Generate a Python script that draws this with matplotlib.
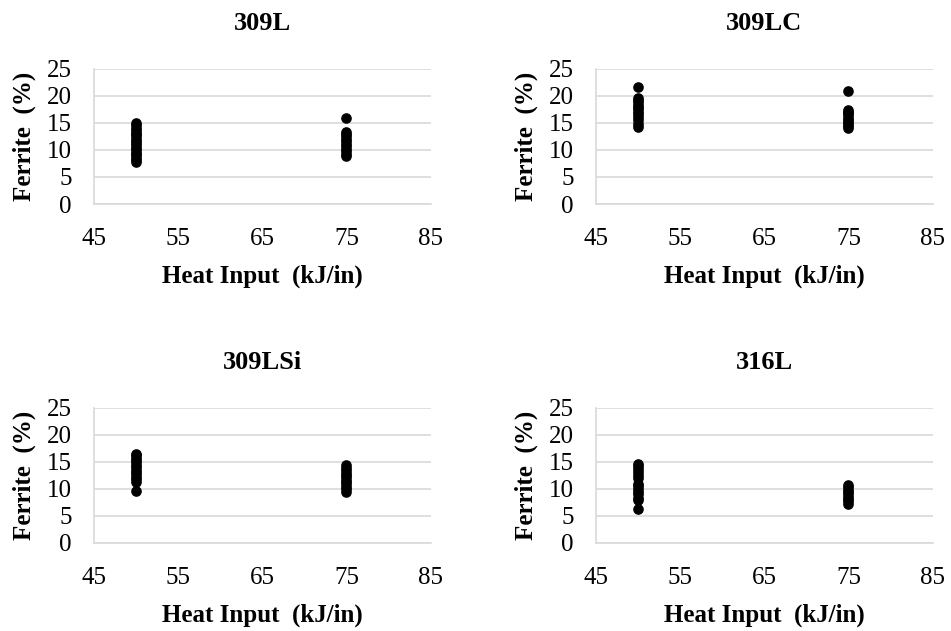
import matplotlib
matplotlib.use("Agg")
import matplotlib.pyplot as plt

plt.rcParams['font.family'] = ['Liberation Serif', 'DejaVu Serif']

# ferrite readings (%) at the two heat inputs (kJ/in)
heat_low = 50
heat_high = 75

f309L_50 = [7.7, 8.1, 8.5, 9.0, 9.3, 9.7, 10.1, 10.4, 10.9, 11.3, 11.6, 12.0, 12.5, 12.9, 13.2, 13.7, 14.1, 14.6, 15.0]
f309L_75 = [15.9, 8.9, 9.3, 9.8, 10.2, 10.7, 11.1, 11.6, 12.1, 12.5, 13.0, 13.4]

f309LC_50 = [21.6, 14.3, 14.9, 15.6, 16.2, 16.6, 17.0, 17.5, 17.9, 18.3, 18.8, 19.2, 19.7]
f309LC_75 = [21.0, 14.0, 14.4, 14.8, 15.2, 15.6, 16.0, 16.4, 16.8, 17.1, 17.4]

f309LSi_50 = [9.7, 11.3, 11.8, 12.2, 12.7, 13.1, 13.6, 14.0, 14.4, 14.9, 15.3, 15.8, 16.2, 16.5]
f309LSi_75 = [9.5, 10.0, 10.4, 10.9, 11.3, 11.7, 12.2, 12.6, 13.0, 13.5, 13.9, 14.4]

f316L_50 = [6.3, 7.9, 8.4, 9.0, 9.5, 10.0, 10.5, 11.0, 12.0, 12.6, 13.1, 13.7, 14.2, 14.7]
f316L_75 = [7.3, 7.7, 8.2, 8.6, 9.0, 9.4, 9.9, 10.3, 10.8]

titles = ["309L", "309LC", "309LSi", "316L"]
lows = [f309L_50, f309LC_50, f309LSi_50, f316L_50]
highs = [f309L_75, f309LC_75, f309LSi_75, f316L_75]

x_ticks = [45, 55, 65, 75, 85]
y_ticks = [0, 5, 10, 15, 20, 25]

fig = plt.figure(figsize=(9.51, 6.31), dpi=100)

# axes boxes in figure fractions (left, bottom, width, height)
boxes = [(0.0988, 0.6767, 0.354, 0.214),
         (0.6267, 0.6767, 0.354, 0.214),
         (0.0988, 0.1395, 0.354, 0.214),
         (0.6267, 0.1395, 0.354, 0.214)]

grey = "#d9d9d9"

for box, title, lo, hi in zip(boxes, titles, lows, highs):
    ax = fig.add_axes(box)
    ax.scatter([heat_low] * len(lo), lo, s=44, color="black", zorder=3)
    ax.scatter([heat_high] * len(hi), hi, s=44, color="black", zorder=3)

    ax.set_xlim(45, 85)
    ax.set_ylim(0, 25)
    ax.set_xticks(x_ticks)
    ax.set_yticks(y_ticks)
    ax.grid(axis="y", color=grey, linewidth=1.2)
    ax.set_axisbelow(True)

    for side in ["top", "right"]:
        ax.spines[side].set_visible(False)
    ax.spines["left"].set_color(grey)
    ax.spines["bottom"].set_color(grey)
    ax.spines["left"].set_linewidth(1.2)
    ax.spines["bottom"].set_linewidth(1.2)

    ax.tick_params(length=0, labelsize=18)
    ax.tick_params(axis="x", pad=17)
    ax.tick_params(axis="y", pad=16)

    ax.set_title(title, fontsize=19, fontweight="bold", pad=28)
    ax.set_xlabel("Heat Input  (kJ/in)", fontsize=18, fontweight="bold", labelpad=11)
    ax.set_ylabel("Ferrite  (%)", fontsize=18, fontweight="bold", labelpad=8)

fig.savefig("out.png", dpi=100)
